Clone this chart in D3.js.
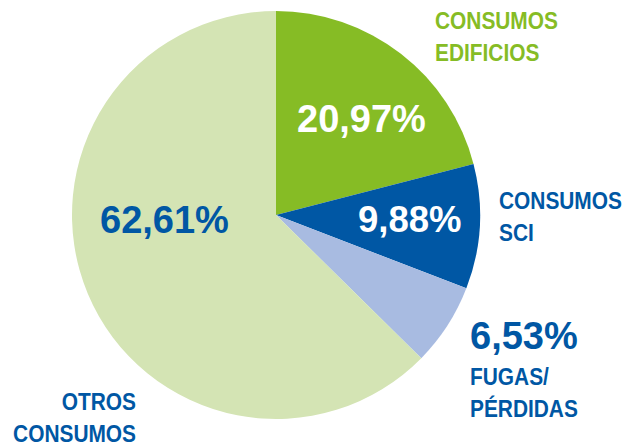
<!DOCTYPE html>
<html>
<head>
<meta charset="utf-8">
<script src="https://cdn.jsdelivr.net/npm/d3@7"></script>
<style>
  html, body { margin: 0; padding: 0; background: #fff; }
  svg { display: block; }
  .pct { font-family: "Liberation Sans", Arial, sans-serif; font-weight: bold; }
  .lbl { font-family: "Liberation Sans", Arial, sans-serif; font-weight: bold; }
</style>
</head>
<body>
<svg id="chart" width="629" height="447"></svg>
<script>
// Distribution of consumption
const categories = ["CONSUMOS EDIFICIOS", "CONSUMOS SCI", "FUGAS/ PÉRDIDAS", "OTROS CONSUMOS"];
const values = [20.97, 9.88, 6.53, 62.61];
const colors = ["#86bc25", "#0057a4", "#a8bbe1", "#d4e4b4"];

const width = 629, height = 447;
const cx = 276, cy = 215, radius = 204;

const svg = d3.select("#chart");

const pie = d3.pie().sort(null).value(d => d.value);
const arc = d3.arc().innerRadius(0).outerRadius(radius);

const data = categories.map((c, i) => ({ name: c, value: values[i], color: colors[i] }));

const g = svg.append("g").attr("transform", `translate(${cx},${cy})`);
g.selectAll("path")
  .data(pie(data))
  .join("path")
  .attr("d", arc)
  .attr("fill", d => d.data.color);

const fmt = v => v.toFixed(2).replace(".", ",") + "%";

// Percentage labels
const pctLabels = [
  { i: 0, x: 297, y: 132, size: 38, fill: "#ffffff" },
  { i: 1, x: 358, y: 232, size: 36.5, fill: "#ffffff" },
  { i: 2, x: 470, y: 349, size: 38, fill: "#0057a4" },
  { i: 3, x: 100, y: 233, size: 38, fill: "#0057a4" }
];
svg.selectAll("text.pct")
  .data(pctLabels)
  .join("text")
  .attr("class", "pct")
  .attr("x", d => d.x)
  .attr("y", d => d.y)
  .attr("font-size", d => d.size)
  .attr("fill", d => d.fill)
  .text(d => fmt(values[d.i]));

// Category labels, set in a condensed (horizontally compressed) bold face
const condense = 0.87;
const catLabels = [
  { lines: ["CONSUMOS", "EDIFICIOS"], x: 435, y: 29, anchor: "start", fill: "#86bc25" },
  { lines: ["CONSUMOS", "SCI"], x: 499, y: 209, anchor: "start", fill: "#0057a4" },
  { lines: ["FUGAS/", "PÉRDIDAS"], x: 470, y: 385, anchor: "start", fill: "#0057a4" },
  { lines: ["OTROS", "CONSUMOS"], x: 136, y: 410, anchor: "end", fill: "#0057a4" }
];
const lg = svg.selectAll("text.lbl")
  .data(catLabels)
  .join("text")
  .attr("class", "lbl")
  .attr("transform", d => `translate(${d.x},${d.y}) scale(${condense},1)`)
  .attr("font-size", 24)
  .attr("fill", d => d.fill)
  .attr("text-anchor", d => d.anchor);
lg.selectAll("tspan")
  .data(d => d.lines.map((t, k) => ({ t, k })))
  .join("tspan")
  .attr("x", 0)
  .attr("y", d => d.k * 32)
  .text(d => d.t);
</script>
</body>
</html>
